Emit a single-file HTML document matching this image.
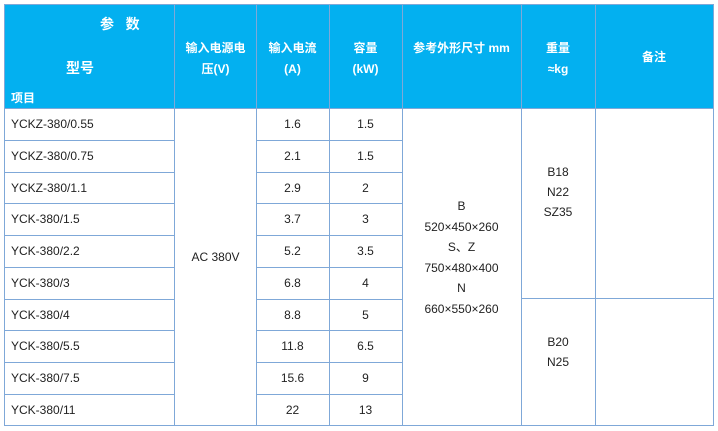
<!DOCTYPE html>
<html><head><meta charset="utf-8"><style>
body{margin:0;width:718px;height:431px;background:#fff;position:relative;overflow:hidden;font-family:"Liberation Sans","Noto Sans CJK SC",sans-serif;font-size:12px;color:#222}
.hd{position:absolute;left:4px;top:4px;width:709px;height:104px;background:#03b0f0}
.v{position:absolute;width:1px;background:#7fa8d8}
.h{position:absolute;height:1px;background:#7fa8d8}
.t{position:absolute;white-space:nowrap}
.w{color:#fff;font-weight:bold;text-align:center;line-height:21px}
.c{text-align:center}
</style></head><body>
<div class="hd"></div>
<div class="t w" style="left:100px;top:14px;font-size:14px;">参&nbsp;&nbsp;&nbsp;数</div>
<div class="t w" style="left:66px;top:58px;font-size:14px">型号</div>
<div class="t w" style="left:11px;top:88px;font-size:12px">项目</div>
<div class="t w" style="left:175px;width:81px;top:38px">输入电源电<br>压(V)</div>
<div class="t w" style="left:256px;width:73px;top:38px">输入电流<br>(A)</div>
<div class="t w" style="left:329px;width:73px;top:38px">容量<br>(kW)</div>
<div class="t w" style="left:402px;width:119px;top:38px">参考外形尺寸 mm</div>
<div class="t w" style="left:521px;width:74px;top:38px">重量<br>≈kg</div>
<div class="t w" style="left:595px;width:118px;top:47px">备注</div>

<div class="v" style="left:4px;top:4px;height:422px"></div>
<div class="v" style="left:174px;top:4px;height:422px"></div>
<div class="v" style="left:256px;top:4px;height:422px"></div>
<div class="v" style="left:329px;top:4px;height:422px"></div>
<div class="v" style="left:402px;top:4px;height:422px"></div>
<div class="v" style="left:521px;top:4px;height:422px"></div>
<div class="v" style="left:595px;top:4px;height:422px"></div>
<div class="v" style="left:713px;top:4px;height:422px"></div>
<div class="h" style="left:4px;top:4px;width:710px"></div>
<div class="h" style="left:4px;top:108px;width:710px"></div>
<div class="h" style="left:4px;top:425px;width:710px"></div>

<div id="rows"></div>
<div class="t c" style="left:175px;width:81px;top:250px">AC 380V</div>
<div class="t c" style="left:402px;width:119px;top:196px;line-height:20.5px">B<br>520×450×260<br>S、Z<br>750×480×400<br>N<br>660×550×260</div>
<div class="t c" style="left:521px;width:74px;top:162px;line-height:20px">B18<br>N22<br>SZ35</div>
<div class="t c" style="left:521px;width:74px;top:332px;line-height:20px">B20<br>N25</div>
<div class="h" style="left:521px;top:298px;width:193px"></div>
<script>
var d=[["YCKZ-380/0.55","1.6","1.5"],["YCKZ-380/0.75","2.1","1.5"],["YCKZ-380/1.1","2.9","2"],["YCK-380/1.5","3.7","3"],["YCK-380/2.2","5.2","3.5"],["YCK-380/3","6.8","4"],["YCK-380/4","8.8","5"],["YCK-380/5.5","11.8","6.5"],["YCK-380/7.5","15.6","9"],["YCK-380/11","22","13"]];
var h="";
for(var i=0;i<10;i++){var y=108+i*31.75;
h+='<div class="t" style="left:11px;top:'+(y+9)+'px">'+d[i][0]+'</div>';
h+='<div class="t c" style="left:256px;width:73px;top:'+(y+9)+'px">'+d[i][1]+'</div>';
h+='<div class="t c" style="left:329px;width:73px;top:'+(y+9)+'px">'+d[i][2]+'</div>';
if(i>0){h+='<div class="h" style="left:4px;top:'+Math.round(y)+'px;width:170px"></div><div class="h" style="left:256px;top:'+Math.round(y)+'px;width:146px"></div>';}}
document.getElementById("rows").innerHTML=h;
</script>
</body></html>
